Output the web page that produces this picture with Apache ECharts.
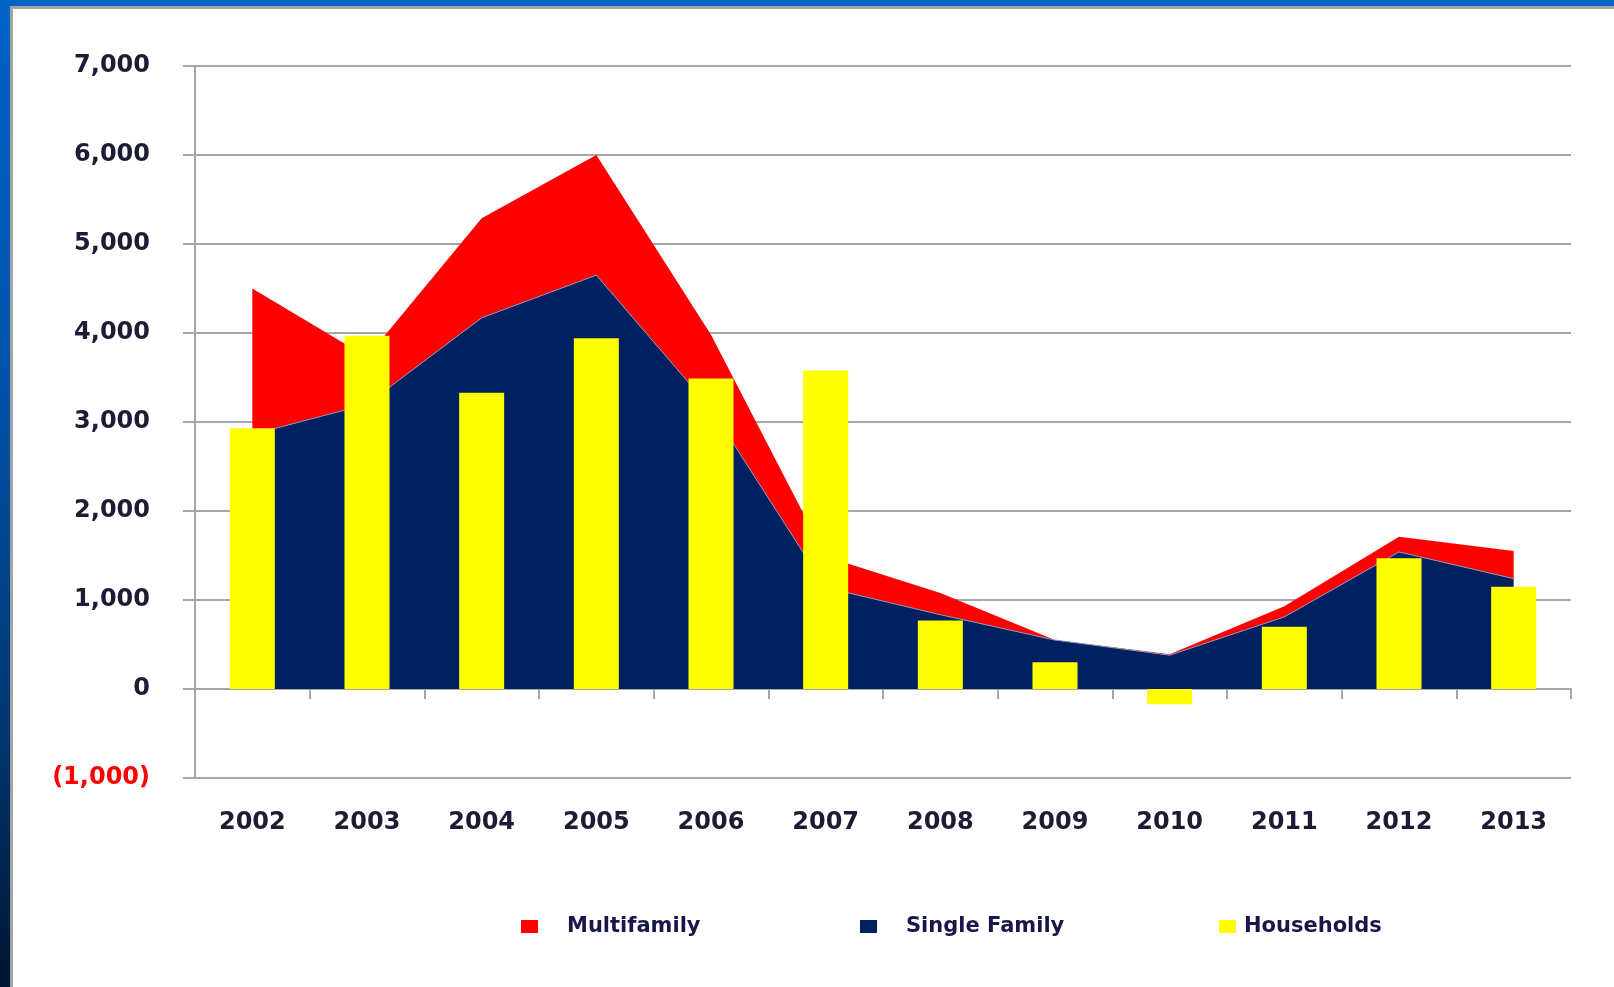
<!DOCTYPE html>
<html>
<head>
<meta charset="utf-8">
<title>Housing Units vs Households</title>
<script src="https://cdn.jsdelivr.net/npm/echarts@6/dist/echarts.min.js"></script>
<style>
  html, body { margin: 0; padding: 0; width: 1614px; height: 987px; overflow: hidden; }
  body {
    background: linear-gradient(to bottom, #0063c6 0%, #0052a8 40%, #00356e 75%, #001530 100%);
    position: relative;
  }
  #panel {
    position: absolute; left: 10px; top: 6px; right: 0; bottom: 0;
    background: #ffffff;
    border-left: 3px solid #a3a3a3;
    border-top: 3px solid #a3a3a3;
  }
  #chart { width: 100%; height: 100%; }
</style>
</head>
<body>
<div id="panel"><div id="chart"></div></div>
<script>
// Annual housing units added (single family + multifamily, stacked) vs. household growth
const years = ['2002', '2003', '2004', '2005', '2006', '2007', '2008', '2009', '2010', '2011', '2012', '2013'];
const singleFamily = [2860, 3200, 4170, 4650, 3150, 1140, 835, 550, 380, 810, 1540, 1240];
const multifamily = [1640, 530, 1120, 1350, 830, 350, 245, 0, 10, 120, 170, 310];
const households = [2930, 3970, 3330, 3940, 3490, 3580, 770, 300, -170, 700, 1470, 1150];

const yMin = -1000, yMax = 7000, yStep = 1000;

const labelFont = 'DejaVu Sans';
const labelColor = '#1c1c34';
const gridGray = '#a6a6a6';

function fmtThousands(v) {
  const s = Math.abs(v).toString().replace(/\B(?=(\d{3})+(?!\d))/g, ',');
  return v < 0 ? '(' + s + ')' : s;
}

function legendItem(name, left, gap) {
  return {
    data: [name],
    left: left,
    top: 907,
    padding: 0,
    icon: 'rect',
    itemWidth: 17,
    itemHeight: 13,
    textStyle: {
      fontFamily: labelFont,
      fontWeight: 'bold',
      fontSize: 21,
      color: '#17174a',
      padding: [0, 0, 0, gap]
    }
  };
}

const chart = echarts.init(document.getElementById('chart'));
chart.setOption({
  animation: false,
  backgroundColor: '#ffffff',
  grid: { left: 182, top: 57, width: 1376, height: 712 },
  legend: [
    legendItem('Multifamily', 508, 24),
    legendItem('Single Family', 847, 24),
    legendItem('Households', 1206, 3)
  ],
  xAxis: {
    type: 'category',
    data: years,
    boundaryGap: true,
    axisLine: { onZero: true, lineStyle: { color: gridGray, width: 2 } },
    axisTick: { show: true, length: 10, lineStyle: { color: gridGray, width: 2 } },
    axisLabel: {
      margin: 33,
      fontFamily: labelFont,
      fontWeight: 'bold',
      fontSize: 24,
      color: labelColor
    },
    splitLine: { show: false }
  },
  yAxis: {
    type: 'value',
    min: yMin,
    max: yMax,
    interval: yStep,
    axisLine: { show: true, lineStyle: { color: gridGray, width: 2 } },
    axisTick: { show: true, inside: false, length: 12, lineStyle: { color: gridGray, width: 2 } },
    axisLabel: {
      margin: 45,
      padding: [6, 0, 0, 0],
      fontFamily: labelFont,
      fontWeight: 'bold',
      fontSize: 24,
      formatter: fmtThousands,
      color: function (v) { return Number(v) < 0 ? '#ff0000' : labelColor; }
    },
    splitLine: { show: true, lineStyle: { color: gridGray, width: 2 } }
  },
  series: [
    {
      name: 'Single Family',
      type: 'line',
      stack: 'units',
      data: singleFamily,
      symbol: 'none',
      color: '#002060',
      lineStyle: { color: '#8797bb', width: 1 },
      areaStyle: { color: '#002060', opacity: 1 },
      z: 2
    },
    {
      name: 'Multifamily',
      type: 'line',
      stack: 'units',
      data: multifamily,
      symbol: 'none',
      color: '#ff0000',
      lineStyle: { color: '#ff0000', width: 0 },
      areaStyle: { color: '#ff0000', opacity: 1 },
      z: 1
    },
    {
      name: 'Households',
      type: 'bar',
      data: households,
      barWidth: 45,
      color: '#ffff00',
      itemStyle: { color: '#ffff00' },
      z: 5
    }
  ]
});
</script>
</body>
</html>
